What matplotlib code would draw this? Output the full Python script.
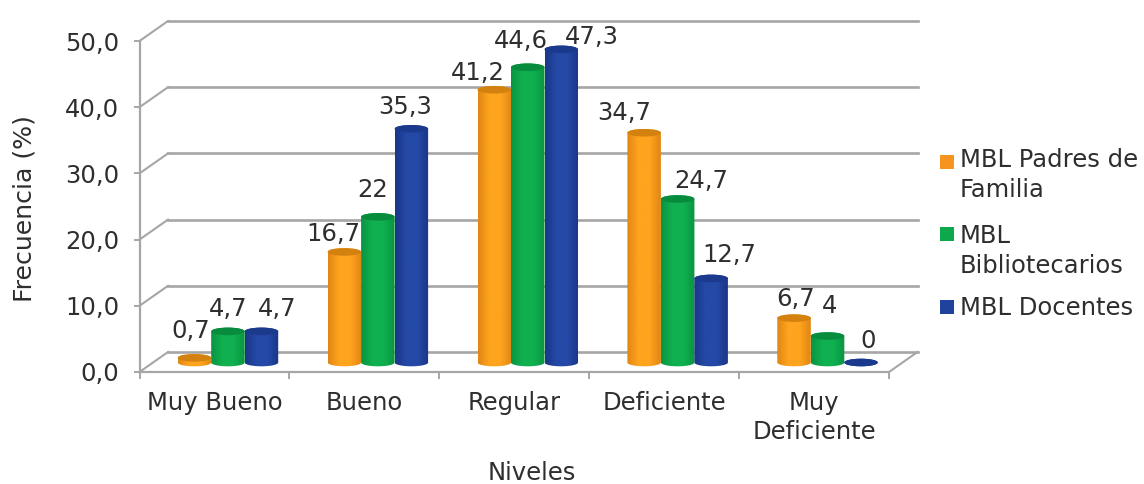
#!/usr/bin/env python3
# -*- coding: utf-8 -*-
import matplotlib
matplotlib.use('Agg')
import matplotlib.pyplot as plt
import numpy as np
from matplotlib.colors import LinearSegmentedColormap
from matplotlib.patches import Ellipse, PathPatch, Rectangle
from matplotlib.path import Path
from matplotlib.transforms import Affine2D

niveles = ['Muy Bueno', 'Bueno', 'Regular', 'Deficiente', 'Muy\nDeficiente']
padres = [0.7, 16.7, 41.2, 34.7, 6.7]
bibliotecarios = [4.7, 22, 44.6, 24.7, 4]
docentes = [4.7, 35.3, 47.3, 12.7, 0]
padres_txt = ['0,7', '16,7', '41,2', '34,7', '6,7']
bibliotecarios_txt = ['4,7', '22', '44,6', '24,7', '4']
docentes_txt = ['4,7', '35,3', '47,3', '12,7', '0']
y_ticks = [0, 10, 20, 30, 40, 50]
y_labels = ['0,0', '10,0', '20,0', '30,0', '40,0', '50,0']

# (name, values, labels, side colour, highlight colour, cap colour)
series = [
    ('MBL Padres de\nFamilia', padres, padres_txt, '#E08614', '#FFA41E', '#D4820F'),
    ('MBL\nBibliotecarios', bibliotecarios, bibliotecarios_txt, '#0A9442', '#10B050', '#078C3E'),
    ('MBL Docentes', docentes, docentes_txt, '#1A3688', '#2449A6', '#1B3A8E'),
]
legend_colors = ['#F7941D', '#0DA84B', '#1F429C']

# label nudges in pixels, one row per series
nudge_x = [[-4, -11, -16, -20, 2], [0, -5, -7, 24, 2], [16, -6, 31, 18, 7]]
nudge_y = [[3, -6, -7, -4, -5], [-2, 3, 2, -6, 6], [-2, -2, -12, -1, -2]]

TEXT = '#2E2E2E'
GRID = '#A6A6A6'
FS = 17.5
DPI = 100
W, H = 1144, 484

fig = plt.figure(figsize=(W / DPI, H / DPI), dpi=DPI)
ax = fig.add_axes([139.5 / W, (H - 372) / H, 749.5 / W, 331 / H])
ax.set_xlim(0, 5)
ax.set_ylim(0, 50)
ax.set_autoscale_on(False)

px_x = 5 / 749.5
px_y = 50 / 331
to_back = ax.transData + Affine2D().translate(28.5, 20)
to_depth = ax.transData + Affine2D().translate(13.5, 9.5)

# back wall and side edges
for v in y_ticks:
    ax.plot([0, 5], [v, v], color=GRID, lw=1.9, transform=to_back, clip_on=False, zorder=1)
    ax.plot([0, -28.5 * px_x], [v, v - 20 * px_y], color=GRID, lw=1.5,
            transform=to_back, clip_on=False, zorder=1)
ax.plot([5, 5 - 28.5 * px_x], [0, -20 * px_y], color=GRID, lw=1.5,
        transform=to_back, clip_on=False, zorder=1)

bar_w = 33.5 * px_x
ry = 3.8 * px_y
theta = np.linspace(0, np.pi, 40)


def cylinder(xc, v, side, light, cap, z):
    cmap = LinearSegmentedColormap.from_list('c', [side, light, light, side], N=64)
    grad = np.linspace(0, 1, 64).reshape(1, -1)
    bottom_x = xc + bar_w / 2 * np.cos(theta)
    bottom_y = -ry * np.sin(theta)
    top_x = xc - bar_w / 2 * np.cos(theta)
    top_y = v + ry * np.sin(theta)
    pts = np.column_stack([np.r_[bottom_x, top_x, bottom_x[0]], np.r_[bottom_y, top_y, bottom_y[0]]])
    codes = [Path.MOVETO] + [Path.LINETO] * (len(pts) - 2) + [Path.CLOSEPOLY]
    body = PathPatch(Path(pts, codes), facecolor='none', edgecolor='none',
                     transform=to_depth, clip_on=False)
    ax.add_patch(body)
    im = ax.imshow(grad, cmap=cmap, aspect='auto', interpolation='bilinear',
                   extent=[xc - bar_w / 2, xc + bar_w / 2, -2 * ry, v + 2 * ry],
                   transform=to_depth, zorder=z)
    im.set_clip_path(body)
    ax.add_patch(Ellipse((xc, v), bar_w, 2 * ry, facecolor=cap, edgecolor='none',
                         transform=to_depth, clip_on=False, zorder=z + 0.1))


for s, (name, values, labels, side, light, cap) in enumerate(series):
    for i, v in enumerate(values):
        xc = i + 0.5 + (s - 1) * bar_w
        cylinder(xc, v, side, light, cap, 3 + s * 0.2)
        ax.annotate(labels[i], (xc, v), xycoords=to_depth,
                    xytext=(nudge_x[s][i], 12 + nudge_y[s][i]), textcoords='offset pixels',
                    ha='center', va='bottom', fontsize=FS, color=TEXT, zorder=8,
                    annotation_clip=False)

for side_name in ['top', 'right']:
    ax.spines[side_name].set_visible(False)
for side_name in ['left', 'bottom']:
    ax.spines[side_name].set_color(GRID)
    ax.spines[side_name].set_linewidth(1.6)

ax.set_yticks(y_ticks, y_labels)
ax.set_xticks(range(6), [''] * 6)
ax.set_xticks(np.arange(5) + 0.5, niveles, minor=True)
ax.tick_params(axis='y', labelsize=FS, labelcolor=TEXT, color=GRID, length=4.3, width=1.4, pad=10.5)
ax.tick_params(axis='x', which='major', color=GRID, length=5, width=1.4)
ax.tick_params(axis='x', which='minor', length=0, labelsize=FS, labelcolor=TEXT, pad=14)
for lab in ax.get_xticklabels(minor=True):
    lab.set_linespacing(1.25)
ax.patch.set_visible(False)

fig.text(532 / W, 1 - 473 / H, 'Niveles', ha='center', va='center', fontsize=FS, color=TEXT)
fig.text(25 / W, 1 - 208 / H, 'Frecuencia (%)', ha='center', va='center', rotation=90,
         fontsize=18.2, color=TEXT)

# legend squares sit level with the first line of each entry
legend_rows = [148, 224, 296]
square_rows = [155, 227, 300]
for (name, *_), color, row, sq in zip(series, legend_colors, legend_rows, square_rows):
    fig.add_artist(Rectangle((940 / W, 1 - (sq + 14) / H), 14 / W, 14 / H,
                             transform=fig.transFigure, facecolor=color, edgecolor='none'))
    fig.text(960 / W, 1 - row / H, name, ha='left', va='top', fontsize=FS, color=TEXT,
             linespacing=1.33)

fig.savefig('out.png', dpi=DPI)
